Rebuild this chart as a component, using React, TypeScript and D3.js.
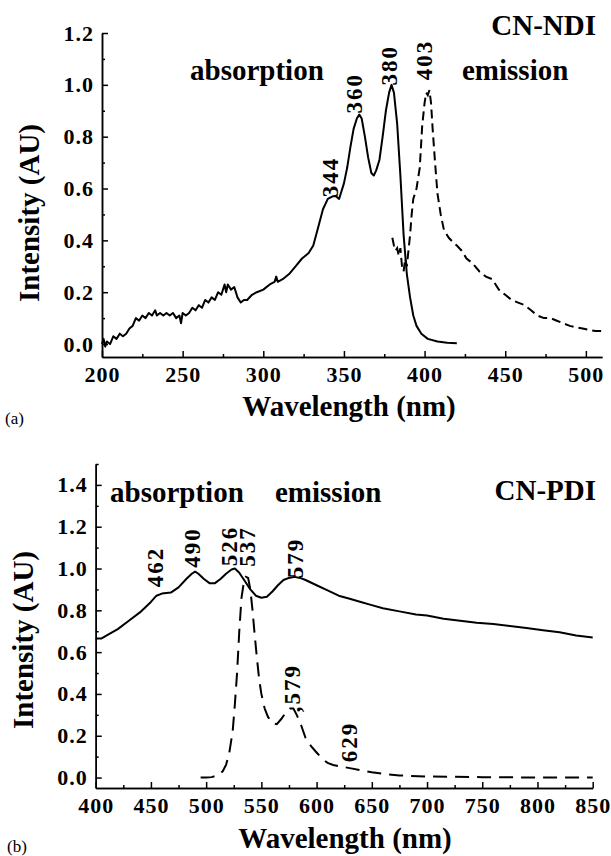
import * as d3 from "d3";
import { useEffect, useRef } from "react";

// (a) CN-NDI, [wavelength nm, intensity AU]
const ndiAbsorption: [number, number][] = [
  [200, 0.0], [201, 0.02], [202, -0.01], [203, 0.01], [205, 0.0], [207, 0.03], [209, 0.02],
  [211, 0.04], [213, 0.03], [215, 0.04], [217, 0.06], [219, 0.07], [221, 0.1], [223, 0.09],
  [225, 0.11], [227, 0.1], [229, 0.12], [231, 0.11], [233, 0.13], [234, 0.11], [236, 0.12],
  [238, 0.11], [240, 0.12], [242, 0.11], [244, 0.12], [246, 0.1], [248, 0.11], [249, 0.08],
  [250, 0.12], [252, 0.11], [254, 0.12], [256, 0.14], [258, 0.13], [260, 0.15], [262, 0.14],
  [264, 0.17], [266, 0.16], [268, 0.18], [270, 0.17], [272, 0.2], [274, 0.19], [276, 0.23],
  [277, 0.2], [278, 0.23], [280, 0.21], [282, 0.22], [284, 0.18], [286, 0.16], [288, 0.17],
  [290, 0.17], [293, 0.19], [296, 0.2], [300, 0.21], [304, 0.23], [307, 0.24], [308, 0.26],
  [309, 0.24], [312, 0.25], [316, 0.27], [320, 0.3], [324, 0.33], [328, 0.35], [331, 0.38],
  [334, 0.45], [337, 0.52], [340, 0.56], [343, 0.57], [345, 0.57], [347, 0.56], [348, 0.58],
  [350, 0.62], [352, 0.68], [354, 0.76], [356, 0.83], [358, 0.87], [359.5, 0.885], [361, 0.87],
  [363, 0.8], [365, 0.72], [367, 0.66], [368.5, 0.65], [370, 0.67], [372, 0.71], [374, 0.8],
  [376, 0.9], [378, 0.97], [379.5, 1.0], [381, 0.97], [383, 0.85], [385, 0.65], [387, 0.42],
  [389, 0.27], [391, 0.18], [393, 0.11], [395, 0.07], [398, 0.04], [402, 0.02], [408, 0.01],
  [414, 0.005], [420, 0.003],
];
const ndiEmission: [number, number][] = [
  [380, 0.41], [381, 0.38], [382, 0.36], [383, 0.37], [384, 0.34], [385, 0.37], [386, 0.3],
  [387, 0.28], [388, 0.33], [389, 0.3], [390, 0.36], [391, 0.42], [392, 0.5], [393, 0.56],
  [395, 0.6], [397, 0.68], [398.5, 0.84], [400, 0.93], [401, 0.97], [402, 0.96], [403, 0.98],
  [404, 0.93], [405, 0.83], [406.5, 0.7], [408, 0.58], [410, 0.5], [412, 0.44], [415, 0.41],
  [418, 0.39], [420, 0.38], [423, 0.36], [426, 0.33], [430, 0.31], [434, 0.28], [438, 0.26],
  [442, 0.25], [446, 0.21], [450, 0.19], [454, 0.17], [458, 0.16], [462, 0.15], [466, 0.13],
  [470, 0.11], [474, 0.1], [478, 0.1], [482, 0.09], [486, 0.08], [490, 0.07], [494, 0.065],
  [498, 0.06], [502, 0.055], [506, 0.05], [510, 0.05],
];
const ndiXTicks = [200, 250, 300, 350, 400, 450, 500];
const ndiXMinor = [225, 275, 325, 375, 425, 475];
const ndiYTicks = [0, 0.2, 0.4, 0.6, 0.8, 1.0, 1.2];
const ndiYMinor = [0.1, 0.3, 0.5, 0.7, 0.9, 1.1];
const ndiPeakLabels = ["344", "360", "380", "403"];
const ndiPeakAt: [number, number][] = [[346.3, 0.644], [361.2, 0.968], [382.9, 1.076], [404.6, 1.096]];

// (b) CN-PDI
const pdiAbsorption: [number, number][] = [
  [400, 0.665], [405, 0.665], [410, 0.68], [420, 0.71], [430, 0.75], [440, 0.79], [450, 0.84],
  [455, 0.87], [460, 0.88], [468, 0.885], [475, 0.91], [482, 0.95], [487, 0.975], [490, 0.985],
  [493, 0.975], [498, 0.95], [503, 0.93], [508, 0.93], [513, 0.95], [518, 0.975], [523, 0.995],
  [526, 1.0], [530, 0.98], [535, 0.94], [540, 0.9], [545, 0.87], [550, 0.86], [555, 0.865],
  [560, 0.89], [565, 0.92], [570, 0.945], [575, 0.955], [580, 0.96], [585, 0.955], [590, 0.945],
  [600, 0.92], [610, 0.895], [620, 0.87], [630, 0.855], [640, 0.84], [650, 0.825], [660, 0.81],
  [675, 0.795], [690, 0.78], [700, 0.775], [715, 0.76], [730, 0.75], [745, 0.74], [760, 0.735],
  [775, 0.725], [790, 0.715], [805, 0.705], [820, 0.695], [835, 0.68], [850, 0.67],
];
const pdiEmission: [number, number][] = [
  [495, 0.0], [500, 0.0], [505, 0.002], [510, 0.01], [515, 0.03], [518, 0.06], [521, 0.12],
  [524, 0.22], [526, 0.35], [528, 0.5], [530, 0.7], [532, 0.86], [534, 0.93], [536, 0.96],
  [538, 0.955], [540, 0.9], [542, 0.8], [544, 0.68], [546, 0.57], [548, 0.47], [550, 0.4],
  [553, 0.33], [556, 0.29], [560, 0.26], [564, 0.255], [568, 0.28], [572, 0.31], [576, 0.33],
  [579, 0.33], [582, 0.3], [586, 0.25], [590, 0.19], [595, 0.15], [600, 0.12], [605, 0.09],
  [610, 0.07], [615, 0.06], [620, 0.055], [625, 0.05], [630, 0.045], [640, 0.035], [650, 0.025],
  [660, 0.018], [675, 0.01], [700, 0.005], [750, 0.002], [800, 0.0], [850, 0.0],
];
const pdiXTicks = [400, 450, 500, 550, 600, 650, 700, 750, 800, 850];
const pdiXMinor = [425, 475, 525, 575, 625, 675, 725, 775, 825];
const pdiYTicks = [0, 0.2, 0.4, 0.6, 0.8, 1.0, 1.2, 1.4];
const pdiYMinor = [0.1, 0.3, 0.5, 0.7, 0.9, 1.1, 1.3, 1.5];
const pdiPeakLabels = ["462", "490", "526", "537", "579", ",579", "629"];
const pdiPeakAt: [number, number][] = [
  [460.9, 1.007], [494.4, 1.1], [527.9, 1.108], [544.2, 1.105], [587.7, 1.05], [585, 0.428], [636.6, 0.17],
];

const FONT = "'Liberation Serif', 'Times New Roman', serif";

type Txt = { t: string; x: number; y: number; size: number; bold?: boolean; anchor?: string; rot?: boolean };

const panels = [
  {
    xDomain: [200, 510], xRange: [102, 602], yDomain: [-0.05, 1.2], yRange: [357, 33],
    abs: ndiAbsorption, em: ndiEmission, dash: "9,5",
    xTicks: ndiXTicks, xMinor: ndiXMinor, yTicks: ndiYTicks, yMinor: ndiYMinor,
    peaks: ndiPeakLabels, peakAt: ndiPeakAt,
    texts: [
      { t: "CN-NDI", x: 596, y: 35, size: 29, bold: true, anchor: "end" },
      { t: "absorption", x: 190, y: 80, size: 29, bold: true },
      { t: "emission", x: 462, y: 80, size: 29, bold: true },
      { t: "Wavelength (nm)", x: 349, y: 416, size: 29, bold: true, anchor: "middle" },
      { t: "Intensity (AU)", x: 39, y: 213, size: 29, bold: true, anchor: "middle", rot: true },
      { t: "(a)", x: 5, y: 424, size: 17 },
    ] as Txt[],
  },
  {
    xDomain: [400, 850], xRange: [95.7, 592.7], yDomain: [-0.05, 1.5], yRange: [788, 464],
    abs: pdiAbsorption, em: pdiEmission, dash: "14,8",
    xTicks: pdiXTicks, xMinor: pdiXMinor, yTicks: pdiYTicks, yMinor: pdiYMinor,
    peaks: pdiPeakLabels, peakAt: pdiPeakAt,
    texts: [
      { t: "CN-PDI", x: 596, y: 500, size: 29, bold: true, anchor: "end" },
      { t: "absorption", x: 110, y: 502, size: 29, bold: true },
      { t: "emission", x: 275, y: 502, size: 29, bold: true },
      { t: "Wavelength (nm)", x: 345, y: 848, size: 29, bold: true, anchor: "middle" },
      { t: "Intensity (AU)", x: 33, y: 640, size: 29, bold: true, anchor: "middle", rot: true },
      { t: "(b)", x: 7, y: 852, size: 17 },
    ] as Txt[],
  },
];

function drawPanel(svg: any, p: any) {
  const x = d3.scaleLinear().domain(p.xDomain).range(p.xRange);
  const y = d3.scaleLinear().domain(p.yDomain).range(p.yRange);
  const g = svg.append("g");
  const line = d3.line<[number, number]>().x((d) => x(d[0])).y((d) => y(d[1]));

  g.append("path").datum(p.abs).attr("d", line).attr("fill", "none")
    .attr("stroke", "#000").attr("stroke-width", 2).attr("stroke-linejoin", "round");
  g.append("path").datum(p.em).attr("d", line).attr("fill", "none")
    .attr("stroke", "#000").attr("stroke-width", 2).attr("stroke-dasharray", p.dash);

  const y0 = p.yRange[0];
  const x0 = p.xRange[0];

  // minor ticks first, then major with labels (ticks point inward)
  g.append("g").attr("transform", `translate(0,${y0})`)
    .call(d3.axisBottom(x).tickValues(p.xMinor).tickSizeInner(-3).tickSizeOuter(0).tickFormat(() => ""));
  g.append("g").attr("transform", `translate(${x0},0)`)
    .call(d3.axisLeft(y).tickValues(p.yMinor).tickSizeInner(-3).tickSizeOuter(0).tickFormat(() => ""));
  g.append("g").attr("transform", `translate(0,${y0})`)
    .call(d3.axisBottom(x).tickValues(p.xTicks).tickSizeInner(-6).tickSizeOuter(0).tickPadding(9).tickFormat(d3.format("d")));
  g.append("g").attr("transform", `translate(${x0},0)`)
    .call(d3.axisLeft(y).tickValues(p.yTicks).tickSizeInner(-6).tickSizeOuter(0).tickPadding(8).tickFormat(d3.format(".1f")));

  g.selectAll(".domain, .tick line").attr("stroke", "#000").attr("stroke-width", 1.5);
  g.selectAll(".tick text").attr("font-family", FONT).attr("font-size", 22)
    .attr("font-weight", "bold").attr("fill", "#000").attr("letter-spacing", 1);

  // rotated peak labels
  p.peaks.forEach((lab: string, i: number) => {
    const [nm, v] = p.peakAt[i];
    g.append("text")
      .attr("transform", `translate(${x(nm)},${y(v)}) rotate(-90)`)
      .attr("text-anchor", "middle").attr("font-family", FONT).attr("font-size", 23)
      .attr("font-weight", "bold").attr("letter-spacing", 2).text(lab);
  });

  p.texts.forEach((d: Txt) => {
    const t = g.append("text")
      .attr("font-family", FONT).attr("font-size", d.size)
      .attr("font-weight", d.bold ? "bold" : "normal")
      .attr("text-anchor", d.anchor || "start").text(d.t);
    if (d.rot) t.attr("transform", `translate(${d.x},${d.y}) rotate(-90)`);
    else t.attr("x", d.x).attr("y", d.y);
  });
}

export default function App() {
  const ref = useRef<SVGSVGElement>(null);

  useEffect(() => {
    const svg = d3.select(ref.current);
    svg.selectAll("*").remove();
    panels.forEach((p) => drawPanel(svg, p));
  }, []);

  return (
    <svg ref={ref} width={611} height={856}
      style={{ position: "absolute", left: 0, top: 0, background: "#fff" }} />
  );
}
